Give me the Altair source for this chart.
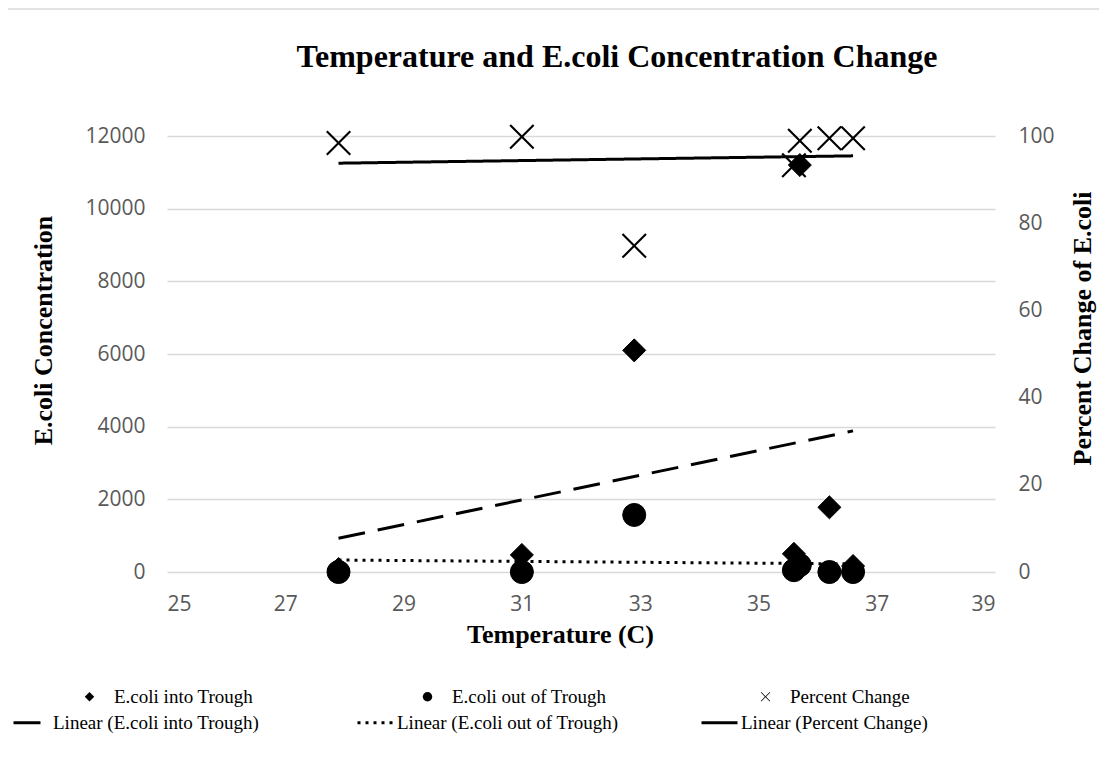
import altair as alt
import pandas as pd

# ---- data ----
temperature = [27.9, 31.0, 32.9, 35.6, 35.7, 36.2, 36.6]
ecoli_into = [80, 470, 6100, 500, 11200, 1780, 165]
ecoli_out = [0, 0, 1570, 50, 190, 0, 0]
percent_change = [98.4, 99.8, 74.8, 93.3, 98.9, 99.5, 99.5]

x_ticks = [25, 27, 29, 31, 33, 35, 37, 39]
y_left_ticks = [0, 2000, 4000, 6000, 8000, 10000, 12000]
y_right_ticks = [0, 20, 40, 60, 80, 100]

S_IN = "E.coli into Trough"
S_OUT = "E.coli out of Trough"
S_PCT = "Percent Change"
point_series = [S_IN, S_OUT, S_PCT]
X_PATH = ("M-0.88,-1L0,-0.12L0.88,-1L1,-0.88L0.12,0L1,0.88L0.88,1L0,0.12"
          "L-0.88,1L-1,0.88L-0.12,0L-1,-0.88Z")
point_shapes = ["diamond", "circle", X_PATH]
line_series = ["Linear (E.coli into Trough)", "Linear (E.coli out of Trough)", "Linear (Percent Change)"]
line_dashes = [[27, 13], [3, 5], [1, 0]]

df = pd.DataFrame({"temp": temperature, "into": ecoli_into, "out": ecoli_out, "pct": percent_change})

SERIF = "Liberation Serif"
SANS = "Open Sans"
GRAY = "#595959"

x_enc = alt.X("temp:Q",
              scale=alt.Scale(domain=[25, 39], nice=False, zero=False),
              axis=alt.Axis(values=x_ticks, title="Temperature (C)", grid=False, domain=False, ticks=False,
                            labelPadding=21, titleX=393, titleY=62, titleBaseline="middle"))

shape_scale = alt.Scale(domain=point_series, range=point_shapes)
dash_scale = alt.Scale(domain=line_series, range=line_dashes)

shape_legend = alt.Legend(title=None, orient="none", legendX=-87, legendY=551, direction="horizontal",
                          columns=3, gridAlign="all", columnPadding=149, labelOffset=15, padding=0,
                          labelLimit=400, symbolSize=90, symbolFillColor="black", symbolStrokeColor="black",
                          symbolStrokeWidth=0.5, labelFont=SERIF, labelFontSize=19, labelColor="black")
dash_legend = alt.Legend(title=None, orient="none", legendX=-155, legendY=567, direction="horizontal",
                         columns=3, gridAlign="all", columnPadding=76, labelOffset=2, padding=0,
                         labelLimit=400, symbolType="stroke", symbolSize=1296, symbolStrokeWidth=3,
                         symbolStrokeColor="black", labelFont=SERIF, labelFontSize=19, labelColor="black")

y_left = alt.Y("value:Q", scale=alt.Scale(domain=[0, 12000], nice=False),
               axis=alt.Axis(values=y_left_ticks, format="d", title="E.coli Concentration", grid=True,
                             domain=False, ticks=False, labelPadding=22,
                             titleX=-124, titleY=194, titleBaseline="middle", titleAngle=270))

series_expr = f"datum.key == 'into' ? '{S_IN}' : '{S_OUT}'"

base = alt.Chart(df)

left_points = base.transform_fold(["into", "out"]).transform_calculate(series=series_expr).mark_point(
    filled=True, size=530, stroke="black", strokeWidth=1, opacity=1, color="black"
).encode(x=x_enc, y=y_left, shape=alt.Shape("series:N", scale=shape_scale, legend=shape_legend))

left_lines = base.transform_fold(["into", "out"]).transform_calculate(series=series_expr).transform_regression(
    "temp", "value", groupby=["series"]
).transform_calculate(label="'Linear (' + datum.series + ')'").mark_line(
    color="black", strokeWidth=3
).encode(x=x_enc, y=y_left, strokeDash=alt.StrokeDash("label:N", scale=dash_scale, legend=dash_legend))

frame = alt.Chart(alt.Data(values=[{"f": 1}])).mark_rect(
    fill="transparent", stroke="#d9d9d9", strokeWidth=1.5
).encode(x=alt.value(-162), x2=alt.value(1000), y=alt.value(-127), y2=alt.value(700))

left = alt.layer(frame, left_points, left_lines)

y_right_axis = alt.Axis(values=y_right_ticks, title="Percent Change of E.coli", orient="right", grid=False,
                        domain=False, ticks=False, labelPadding=23,
                        titleX=87, titleY=192, titleBaseline="middle", titleAngle=270)
y_right = alt.Y("pct:Q", scale=alt.Scale(domain=[0, 100], nice=False), axis=y_right_axis)

right_points = base.transform_calculate(series=f"'{S_PCT}'").mark_point(
    filled=True, size=625, strokeWidth=0, opacity=1, color="black"
).encode(x=x_enc, y=y_right, shape=alt.Shape("series:N", scale=shape_scale, legend=shape_legend))

right_line = base.transform_regression("temp", "pct").transform_calculate(
    label=f"'Linear ({S_PCT})'"
).mark_line(color="black", strokeWidth=3).encode(
    x=x_enc, y=y_right, strokeDash=alt.StrokeDash("label:N", scale=dash_scale, legend=dash_legend))

right = alt.layer(right_points, right_line)

chart = alt.layer(left, right).resolve_scale(y="independent").properties(
    width=828, height=436,
    background="white",
    autosize=alt.AutoSizeParams(type="none"),
    padding={"left": 159, "top": 128, "right": 104, "bottom": 165},
    title=alt.TitleParams("Temperature and E.coli Concentration Change", font=SERIF, fontSize=32,
                          fontWeight="bold", color="black", anchor="middle", frame="group", dx=36,
                          offset=-91, baseline="alphabetic"),
).configure_view(stroke=None).configure_axis(
    labelFont=SANS, labelFontSize=21, labelColor=GRAY, titleFont=SERIF, titleFontSize=26,
    titleFontWeight="bold", titleColor="black", gridColor="#d9d9d9", gridWidth=1.5
)

chart.save("out.html", embed_options={"renderer": "svg", "actions": False})
